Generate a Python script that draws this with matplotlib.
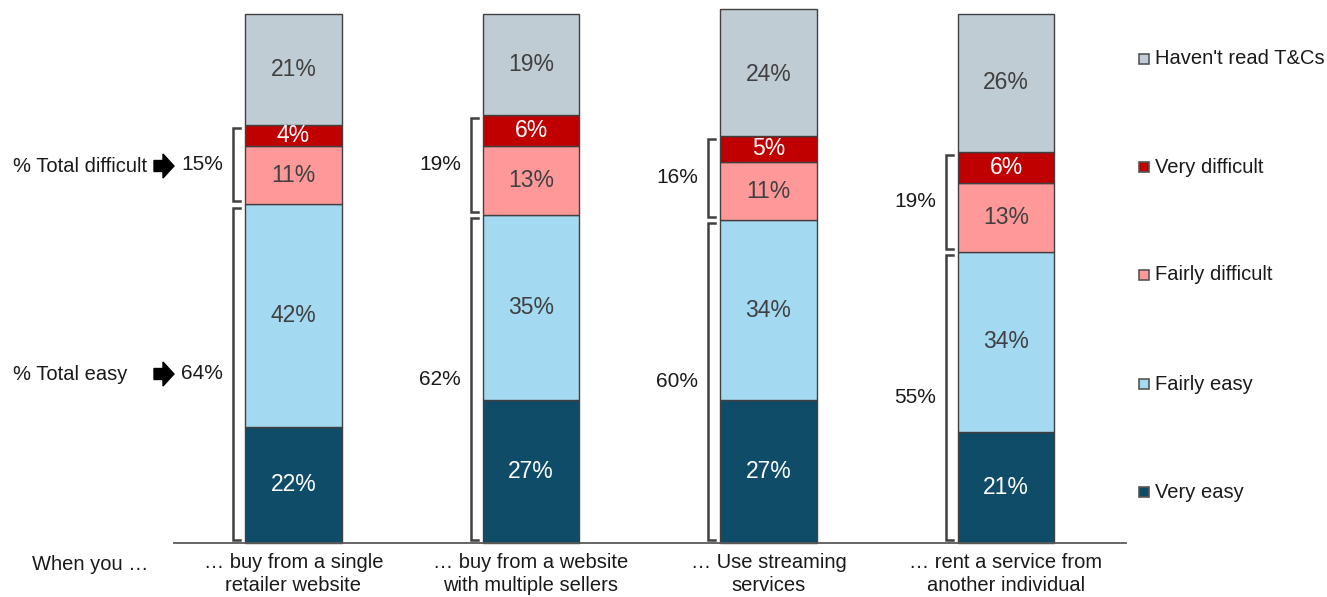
import numpy as np
import matplotlib.pyplot as plt
from matplotlib.patches import Polygon, Rectangle

plt.rcParams['font.family'] = ['Liberation Sans', 'DejaVu Sans']

categories = ["… buy from a single\nretailer website",
              "… buy from a website\nwith multiple sellers",
              "… Use streaming\nservices",
              "… rent a service from\nanother individual"]
very_easy = [22, 27, 27, 21]
fairly_easy = [42, 35, 34, 34]
fairly_difficult = [11, 13, 11, 13]
very_difficult = [4, 6, 5, 6]
not_read = [21, 19, 24, 26]
total_easy = [64, 62, 60, 55]
total_difficult = [15, 19, 16, 19]

W, H = 1327, 597
TXT = '#1a1a1a'
EDGE = '#404040'


def fx(px):
    return px / W


def fy(py):
    return 1 - py / H


fig = plt.figure(figsize=(W / 100, H / 100), dpi=100)
ax = fig.add_axes([fx(174), fy(543), (1126 - 174) / W, 529 / H])

x = np.arange(len(categories))
width = 0.405
series = [
    (very_easy, '#0f4c68', 'white', 'Very easy'),
    (fairly_easy, '#a4d9f2', '#404040', 'Fairly easy'),
    (fairly_difficult, '#ff9999', '#404040', 'Fairly difficult'),
    (very_difficult, '#c00000', 'white', 'Very difficult'),
    (not_read, '#c0ccd3', '#404040', "Haven't read T&Cs"),
]

bottom = np.zeros(len(categories))
for vals, color, tc, name in series:
    bars = ax.bar(x, vals, width, bottom=bottom, color=color,
                  edgecolor=EDGE, linewidth=1, clip_on=False)
    ax.bar_label(bars, labels=[f'{v}%' for v in vals], label_type='center',
                 color=tc, fontsize=16.5)
    bottom += np.array(vals)

ax.set_xlim(-0.503, 3.505)
ax.set_ylim(0, 100)

# brackets for total easy / total difficult to the left of each bar
gap = 12 / 237.5
arm = 7 / 237.5
inset = 0.6
for i in x:
    xb = i - width / 2 - gap
    easy_top = very_easy[i] + fairly_easy[i]
    diff_top = easy_top + fairly_difficult[i] + very_difficult[i]
    for y0, y1, lab in [(inset, easy_top - inset, total_easy[i]),
                        (easy_top + inset, diff_top - inset, total_difficult[i])]:
        ax.plot([xb + arm, xb, xb, xb + arm], [y0, y0, y1, y1],
                color=EDGE, lw=1.8, clip_on=False, solid_joinstyle='miter')
        ax.text(xb - 10 / 237.5, (y0 + y1) / 2, f'{lab}%', ha='right',
                va='center', fontsize=15, color=TXT)

ax.set_xticks(x, categories, fontsize=14.5, color=TXT, linespacing=1.3)
ax.tick_params(axis='x', length=0, pad=7)
ax.set_yticks([])
for s in ['top', 'right', 'left']:
    ax.spines[s].set_visible(False)
ax.spines['bottom'].set_color('#595959')
ax.spines['bottom'].set_linewidth(1.3)

fig.text(fx(90), fy(564), 'When you …', ha='center', va='center',
         fontsize=14.5, color=TXT)

# left-hand row labels with block arrows
for label, py in [('% Total difficult', 166), ('% Total easy', 374)]:
    fig.text(fx(13), fy(py), label, ha='left', va='center', fontsize=14.5, color=TXT)
    pts = [(154, py - 5.5), (163, py - 5.5), (163, py - 12), (174, py),
           (163, py + 12), (163, py + 5.5), (154, py + 5.5)]
    fig.add_artist(Polygon([(fx(a), fy(b)) for a, b in pts], closed=True,
                           facecolor='black', edgecolor='black',
                           transform=fig.transFigure))

# legend on the right, top to bottom
for (vals, color, tc, name), py in zip(series[::-1], [59, 167, 275, 384, 492]):
    fig.add_artist(Rectangle((fx(1139), fy(py + 5)), 10 / W, 10 / H,
                             facecolor=color, edgecolor='#555555', lw=1.2,
                             transform=fig.transFigure))
    fig.text(fx(1155), fy(py), name, ha='left', va='center',
             fontsize=14.5, color=TXT)

fig.savefig('out.png', dpi=100)
